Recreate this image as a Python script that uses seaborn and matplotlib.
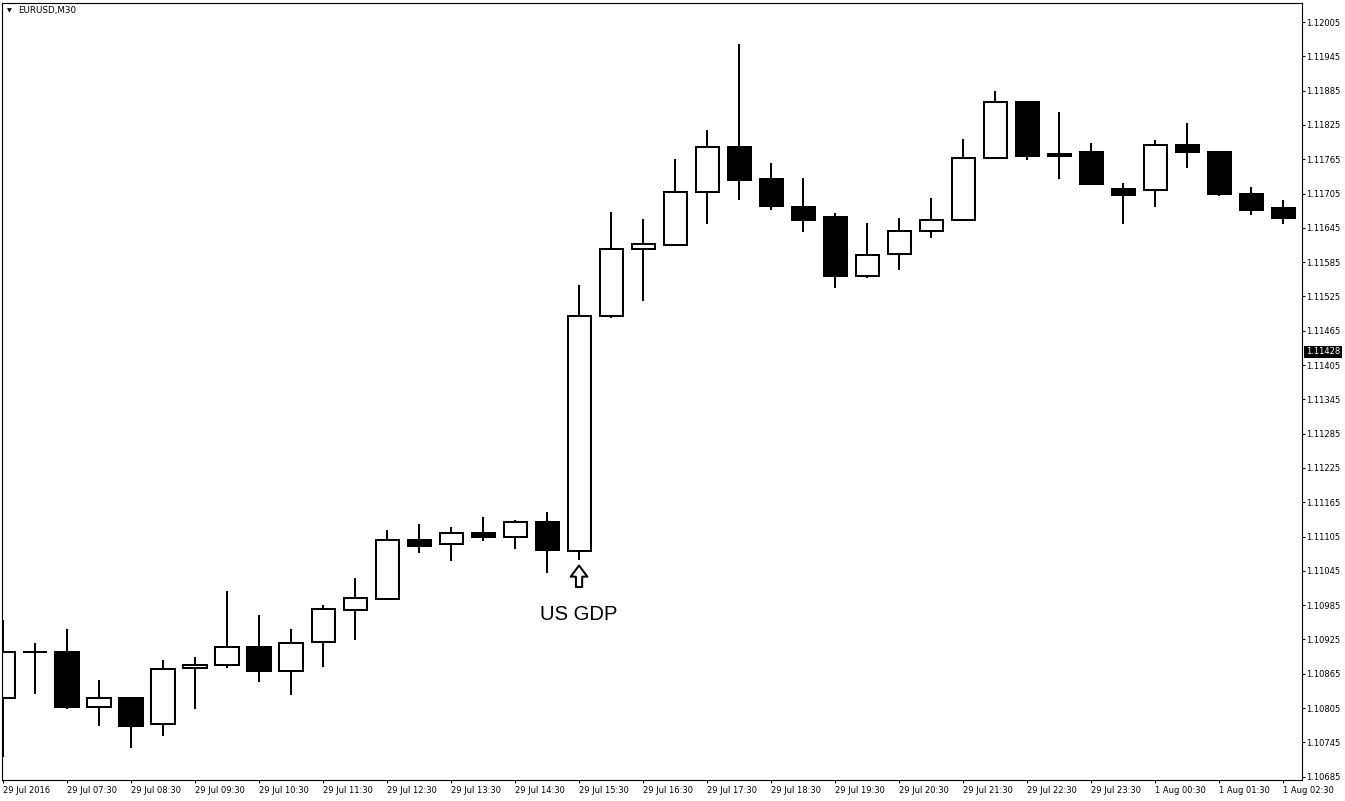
import matplotlib
matplotlib.use("Agg")
import numpy as np
import pandas as pd
import matplotlib.pyplot as plt
from matplotlib.transforms import offset_copy
import seaborn as sns

sns.set_theme(style="white")
plt.rcParams['font.family'] = ['DejaVu Sans']

# EURUSD M30 봉 데이터 (29 Jul 2016 ~ 1 Aug 2016)
opens = [1.10822, 1.10903, 1.10903, 1.10807, 1.10822, 1.10777, 1.10875, 1.10880,
         1.10911, 1.10869, 1.10920, 1.10977, 1.10996, 1.11099, 1.11092, 1.11111,
         1.11104, 1.11130, 1.11079, 1.11491, 1.11608, 1.11615, 1.11707, 1.11786,
         1.11730, 1.11681, 1.11664, 1.11560, 1.11599, 1.11639, 1.11658, 1.11767,
         1.11865, 1.11774, 1.11778, 1.11713, 1.11711, 1.11790, 1.11778, 1.11704,
         1.11680]
highs = [1.10959, 1.10919, 1.10943, 1.10854, 1.10824, 1.10889, 1.10894, 1.11010,
         1.10968, 1.10943, 1.10985, 1.11032, 1.11117, 1.11127, 1.11121, 1.11139,
         1.11134, 1.11148, 1.11545, 1.11673, 1.11661, 1.11766, 1.11816, 1.11967,
         1.11759, 1.11732, 1.11671, 1.11654, 1.11662, 1.11697, 1.11800, 1.11884,
         1.11867, 1.11847, 1.11794, 1.11724, 1.11799, 1.11829, 1.11780, 1.11717,
         1.11694]
lows = [1.10720, 1.10830, 1.10803, 1.10774, 1.10735, 1.10757, 1.10804, 1.10875,
        1.10851, 1.10828, 1.10876, 1.10924, 1.10995, 1.11076, 1.11063, 1.11098,
        1.11083, 1.11041, 1.11064, 1.11487, 1.11517, 1.11614, 1.11651, 1.11694,
        1.11677, 1.11637, 1.11539, 1.11557, 1.11571, 1.11628, 1.11657, 1.11766,
        1.11764, 1.11731, 1.11720, 1.11651, 1.11682, 1.11750, 1.11701, 1.11668,
        1.11651]
closes = [1.10903, 1.10903, 1.10807, 1.10822, 1.10774, 1.10873, 1.10880, 1.10911,
          1.10869, 1.10918, 1.10978, 1.10997, 1.11099, 1.11089, 1.11111, 1.11104,
          1.11130, 1.11082, 1.11491, 1.11608, 1.11616, 1.11707, 1.11786, 1.11729,
          1.11684, 1.11659, 1.11561, 1.11597, 1.11639, 1.11658, 1.11767, 1.11865,
          1.11771, 1.11770, 1.11721, 1.11703, 1.11790, 1.11777, 1.11705, 1.11677,
          1.11663]

time_labels = ["29 Jul 2016", "29 Jul 07:30", "29 Jul 08:30", "29 Jul 09:30",
               "29 Jul 10:30", "29 Jul 11:30", "29 Jul 12:30", "29 Jul 13:30",
               "29 Jul 14:30", "29 Jul 15:30", "29 Jul 16:30", "29 Jul 17:30",
               "29 Jul 18:30", "29 Jul 19:30", "29 Jul 20:30", "29 Jul 21:30",
               "29 Jul 22:30", "29 Jul 23:30", "1 Aug 00:30", "1 Aug 01:30",
               "1 Aug 02:30"]
price_ticks = [1.10685, 1.10745, 1.10805, 1.10865, 1.10925, 1.10985, 1.11045,
               1.11105, 1.11165, 1.11225, 1.11285, 1.11345, 1.11405, 1.11465,
               1.11525, 1.11585, 1.11645, 1.11705, 1.11765, 1.11825, 1.11885,
               1.11945, 1.12005]
last_price = 1.11428
gdp_bar = 18  # 29 Jul 15:30 봉 (US GDP 발표)

df = pd.DataFrame({"open": opens, "high": highs, "low": lows, "close": closes})
df["bull"] = df["close"] >= df["open"]
df["body_low"] = df[["open", "close"]].min(axis=1)
df["body_h"] = (df["close"] - df["open"]).abs()

fig = plt.figure(figsize=(13.45, 8.01), dpi=100)
ax = fig.add_axes([2 / 1345, 21 / 801, 1300 / 1345, 777 / 801])

# 꼬리 먼저, 몸통은 위에
ax.vlines(df.index, df["low"], df["high"], color="black", linewidth=1.45, zorder=1)
ax.bar(df.index, df["body_h"], bottom=df["body_low"], width=0.72,
       color=np.where(df["bull"], "white", "black"), edgecolor="black",
       linewidth=1.45, zorder=2)

ax.set_xlim(-0.031, 40.59)
ax.set_ylim(1.106792, 1.120384)

ax.set_xticks(range(0, len(df), 2))
ax.set_xticklabels(time_labels, ha="left")
ax.yaxis.tick_right()
ax.set_yticks(price_ticks)
ax.set_yticklabels([f"{p:.5f}" for p in price_ticks])
ax.tick_params(axis="both", labelsize=6, length=2.5, width=0.8, color="black",
               direction="out", labelcolor="black")
ax.tick_params(axis="x", bottom=True, pad=1.5)
ax.tick_params(axis="y", right=True, left=False, labelright=True, labelleft=False, pad=0.8)
ax.grid(False)
for s in ax.spines.values():
    s.set_color("black")
    s.set_linewidth(0.8)

# 심볼 표시
ax.text(0.0054, 0.9905, "▼", transform=ax.transAxes, fontsize=4.5,
        ha="center", va="center", color="black")
ax.text(0.0123, 0.9905, "EURUSD,M30", transform=ax.transAxes, fontsize=6.3,
        ha="left", va="center", color="black")

# 현재가 라벨
ax.annotate(f"{last_price:.5f}", xy=(1, last_price), xycoords=("axes fraction", "data"),
            xytext=(2.9, 0), textcoords="offset points", ha="left", va="center",
            fontsize=6, color="white", annotation_clip=False,
            bbox=dict(boxstyle="square,pad=0.2", fc="black", ec="none"))

# US GDP 화살표 (속이 빈 블록 화살표) + 텍스트
tip = offset_copy(ax.transData, fig=fig, x=0, y=-5.5, units="dots")
ax.annotate("", xy=(gdp_bar, lows[gdp_bar]), xycoords=tip,
            xytext=(0, -15.5), textcoords="offset points",
            arrowprops=dict(arrowstyle="simple,head_length=0.8,head_width=1.2,tail_width=0.45",
                            fc="white", ec="black", lw=1.45, shrinkA=0, shrinkB=0,
                            mutation_scale=10))
ax.annotate("US GDP", xy=(gdp_bar, lows[gdp_bar]), xytext=(0, -43.2),
            textcoords="offset points", ha="center", va="baseline",
            fontsize=14.6, family="Liberation Sans", color="black")

fig.savefig("out.png", dpi=100)
